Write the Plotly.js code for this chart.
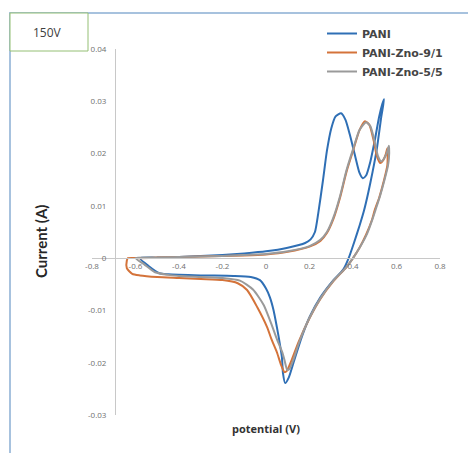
<!DOCTYPE html>
<html>
<head>
<meta charset="utf-8">
<script src="https://cdn.plot.ly/plotly-3.0.1.min.js"></script>
<style>html,body{margin:0;padding:0;background:#fff;}#chart{width:468px;height:453px;}</style>
</head>
<body>
<div id="chart"></div>
<script>
// ---- data (potential in V, current in A) ----
const seriesNames = ["PANI", "PANI-Zno-9/1", "PANI-Zno-5/5"];

const paniX = [-0.58,-0.5,-0.4,-0.3,-0.2,-0.1,0,0.1,0.18,0.205,0.225,0.24,0.262,0.28,0.3,0.32,0.345,0.365,0.385,0.41,0.43,0.445,0.46,0.48,0.5,0.52,0.535,0.543,
  0.53,0.51,0.49,0.47,0.45,0.43,0.405,0.38,0.355,0.31,0.25,0.2,0.165,0.13,0.105,0.088,0.078,0.073,0.06,0.05,0.035,0.018,0,-0.028,-0.07,-0.15,-0.3,-0.45,-0.49,-0.54,-0.58];
const paniY = [0,0.0001,0.0002,0.0004,0.0006,0.0009,0.0013,0.002,0.0029,0.0036,0.005,0.0085,0.0149,0.0205,0.0248,0.0271,0.0277,0.0265,0.0237,0.0195,0.0163,0.0153,0.0158,0.0185,0.0225,0.027,0.0295,0.0304,
  0.027,0.021,0.0165,0.0125,0.009,0.0062,0.003,0,-0.0022,-0.0042,-0.0075,-0.0113,-0.015,-0.0195,-0.0228,-0.0239,-0.022,-0.0189,-0.0155,-0.0132,-0.01,-0.0075,-0.0058,-0.0042,-0.0036,-0.0034,-0.0033,-0.0031,-0.0029,-0.0015,0];

const zno91X = [-0.635,-0.58,-0.5,-0.4,-0.3,-0.2,-0.1,0,0.1,0.2,0.25,0.28,0.31,0.34,0.37,0.4,0.43,0.455,0.475,0.495,0.51,0.525,0.54,0.55,0.558,
  0.558,0.54,0.52,0.5,0.487,0.46,0.43,0.4,0.37,0.31,0.25,0.2,0.15,0.115,0.095,0.085,0.07,0.05,0.025,0.005,-0.04,-0.087,-0.13,-0.2,-0.3,-0.4,-0.5,-0.58,-0.615,-0.64,-0.64,-0.635];
const zno91Y = [0,0,0.0001,0.0002,0.0003,0.0004,0.0005,0.0007,0.0012,0.0022,0.0033,0.0048,0.0075,0.0115,0.0165,0.0205,0.0245,0.0262,0.0255,0.0225,0.0195,0.0182,0.0188,0.0198,0.021,
  0.0178,0.0145,0.0115,0.0092,0.0073,0.0045,0.002,0,-0.0017,-0.0044,-0.0078,-0.0115,-0.016,-0.0198,-0.0216,-0.0218,-0.0205,-0.018,-0.0155,-0.0132,-0.0094,-0.0061,-0.0048,-0.0042,-0.004,-0.0038,-0.0036,-0.0033,-0.003,-0.0019,-0.0005,0];

const zno55X = [-0.6,-0.5,-0.4,-0.3,-0.2,-0.1,0,0.1,0.2,0.25,0.28,0.31,0.34,0.37,0.4,0.43,0.46,0.48,0.5,0.515,0.53,0.545,0.556,0.565,
  0.565,0.56,0.545,0.525,0.505,0.49,0.465,0.435,0.4,0.37,0.31,0.25,0.2,0.155,0.125,0.108,0.098,0.085,0.075,0.05,0.03,-0.01,-0.06,-0.12,-0.2,-0.3,-0.4,-0.45,-0.51,-0.56,-0.6];
const zno55Y = [0,0.0001,0.0002,0.0003,0.0004,0.0006,0.0008,0.0013,0.0023,0.0035,0.005,0.0078,0.0118,0.0168,0.0208,0.0245,0.026,0.0252,0.0222,0.0195,0.0185,0.0192,0.0202,0.0215,
  0.019,0.0175,0.015,0.012,0.0094,0.0075,0.0047,0.0023,0,-0.0017,-0.0043,-0.0077,-0.0114,-0.0158,-0.0195,-0.0212,-0.0214,-0.0195,-0.018,-0.0155,-0.0132,-0.009,-0.006,-0.0043,-0.0038,-0.0036,-0.0034,-0.0032,-0.0027,-0.0012,0];

const xTicks = [-0.8,-0.6,-0.4,-0.2,0,0.2,0.4,0.6,0.8];
const xTickText = ["-0.8","-0.6","-0.4","-0.2","0","0.2","0.4","0.6","0.8"];
const yTicks = [-0.03,-0.02,-0.01,0,0.01,0.02,0.03,0.04];
const yTickText = ["-0.03","-0.02","-0.01","0","0.01","0.02","0.03","0.04"];

const colors = ["#2F6FB5", "#D4733A", "#9A9A9A"];

const traces = [
  {x: paniX, y: paniY, name: seriesNames[0]},
  {x: zno91X, y: zno91Y, name: seriesNames[1]},
  {x: zno55X, y: zno55Y, name: seriesNames[2]}
].map((t, i) => Object.assign(t, {
  type: "scatter", mode: "lines",
  line: {color: colors[i], width: 2, shape: "spline", smoothing: 0.6},
  hoverinfo: "skip"
}));

// pixel geometry helpers
const L = 92, R = 28, T = 49, B = 38, W = 468, H = 453;
const pw = W - L - R, ph = H - T - B;
const px = v => (v - L) / pw;
const py = v => (H - B - v) / ph;

const tickFont = {family: "Open Sans, sans-serif", size: 8, color: "#707070"};

const layout = {
  width: W, height: H,
  margin: {l: L, r: R, t: T, b: B},
  paper_bgcolor: "#ffffff", plot_bgcolor: "#ffffff",
  showlegend: true,
  legend: {
    x: px(322), y: py(19), xanchor: "left", yanchor: "top",
    font: {family: "DejaVu Sans, sans-serif", size: 11, color: "#454545", weight: 600},
    bgcolor: "rgba(0,0,0,0)", traceorder: "normal", itemwidth: 30
  },
  xaxis: {
    range: [-0.8, 0.8], anchor: "free", position: 3/7,
    showgrid: false, zeroline: false, showline: true, linecolor: "#C8C8C8", linewidth: 1,
    tickvals: xTicks, ticktext: xTickText, ticks: "", tickfont: tickFont, fixedrange: true
  },
  yaxis: {
    range: [-0.03, 0.04], anchor: "free", position: px(115),
    showgrid: false, zeroline: false, showline: true, linecolor: "#C8C8C8", linewidth: 1,
    tickvals: yTicks, ticktext: yTickText, ticks: "", tickfont: tickFont, ticklabelstandoff: 7, fixedrange: true
  },
  shapes: [
    {type: "rect", xref: "paper", yref: "paper", x0: px(10), x1: px(475), y0: py(462), y1: py(13),
     line: {color: "#A7C2DE", width: 2}, fillcolor: "rgba(0,0,0,0)", layer: "below"},
    {type: "rect", xref: "paper", yref: "paper", x0: px(10), x1: px(88), y0: py(51), y1: py(13),
     line: {color: "#94BF74", width: 1}, fillcolor: "#ffffff", layer: "above"}
  ],
  annotations: [
    {text: "150V", xref: "paper", yref: "paper", x: px(47), y: py(32), xanchor: "center", yanchor: "middle", showarrow: false,
     font: {family: "Open Sans, sans-serif", size: 12, color: "#404040"}},
    {text: "Current (A)", xref: "paper", yref: "paper", x: px(41), y: py(241), xanchor: "center", yanchor: "middle", showarrow: false, textangle: -90,
     font: {family: "Lato, sans-serif", size: 15, color: "#262626", weight: 700}},
    {text: "potential (V)", xref: "paper", yref: "paper", x: px(266), y: py(428), xanchor: "center", yanchor: "middle", showarrow: false,
     font: {family: "Open Sans, sans-serif", size: 11, color: "#333333", weight: 700}}
  ]
};

Plotly.newPlot("chart", traces, layout, {displayModeBar: false, staticPlot: true});
</script>
</body>
</html>
